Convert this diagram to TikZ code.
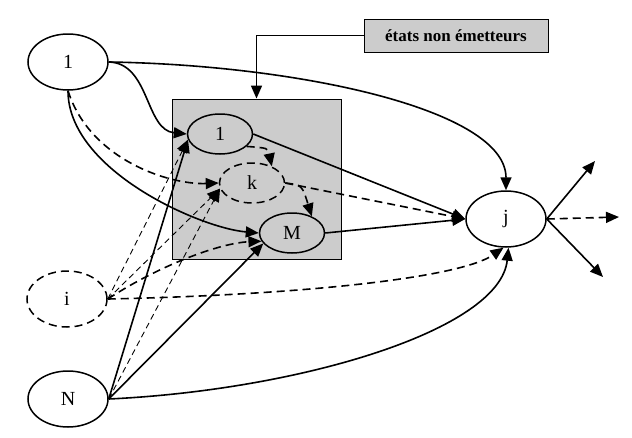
\documentclass[tikz,border=0pt]{standalone}
\usepackage{fontspec}
\setmainfont{Liberation Serif}
\usetikzlibrary{arrows.meta,shapes.geometric}
\begin{document}
\begin{tikzpicture}[x=1pt,y=-1pt,
  st/.style={draw, ellipse, line width=1.5pt, inner sep=0pt, font=\fontsize{20}{22}\selectfont},
  big/.style={st, minimum width=80pt, minimum height=56pt},
  small/.style={st, minimum width=65pt, minimum height=40pt},
  dsh/.style={dash pattern=on 8pt off 5pt},
  conn/.style={line width=1.6pt, -{Triangle[length=13pt,width=11pt]}},
  thindash/.style={line width=0.9pt, dash pattern=on 6pt off 4pt, -{Triangle[length=13pt,width=11pt]}},
  shade/.style={draw, fill=black!20, line width=0.9pt, inner sep=0pt}
]
\useasboundingbox (0,0) rectangle (632,437);
% group box
\node[shade, minimum width=169pt, minimum height=160pt] (grp) at (256.5,179) {};
\node[shade, minimum width=184pt, minimum height=33pt, font=\fontsize{17}{19}\selectfont\bfseries] (lab) at (456,35.5) {états non émetteurs};
% nodes
\node[big] (t1) at (68,62) {1};
\node[big, dsh] (i) at (67,299) {i};
\node[big] (N) at (68,399) {N};
\node[small] (in1) at (220,134) {1};
\node[small, dsh] (k) at (252,183) {k};
\node[small] (M) at (292,233) {M};
\node[big] (j) at (506,219) {j};
\coordinate (o1) at (595,161);
\coordinate (o2) at (619,217);
\coordinate (o3) at (603,277);
% label pointer
\draw[conn] (lab.west) -| (grp.north);
% from top 1
\draw[conn] (t1.east) .. controls (300,65) and (506,110) .. (j.north);
\draw[conn] (t1.east) .. controls (150,63) and (145,130) .. (in1.west);
\draw[conn] (t1.south) .. controls (68,170) and (200,228) .. (M.west);
\draw[conn, dsh] (t1.south) .. controls (90,160) and (170,185) .. (k.west);
% inside
\draw[conn] (in1.east) -- (j.west);
\draw[conn, dsh] (in1.-25) .. controls (268,148) .. (k.40);
\draw[conn, dsh] (k.east) .. controls (302,185) .. (M.40);
\draw[conn, dsh] (k.east) -- (j.west);
\draw[conn] (M.east) -- (j.west);
% from i
\draw[thindash] (i.east) -- (in1.190);
\draw[thindash] (i.east) -- (k.190);
\draw[conn, dsh] (i.east) .. controls (160,265) and (220,243) .. (M.195);
\draw[conn, dsh] (i.east) .. controls (300,295) and (460,278) .. (j.-95);
% from N
\draw[conn] (N.east) -- (in1.190);
\draw[thindash] (N.east) -- (k.190);
\draw[conn] (N.east) -- (M.200);
\draw[conn] (N.east) .. controls (300,390) and (500,330) .. (j.-85);
% outputs of j
\draw[conn] (j.east) -- (o1);
\draw[conn, dsh] (j.east) -- (o2);
\draw[conn] (j.east) -- (o3);
\end{tikzpicture}
\end{document}
